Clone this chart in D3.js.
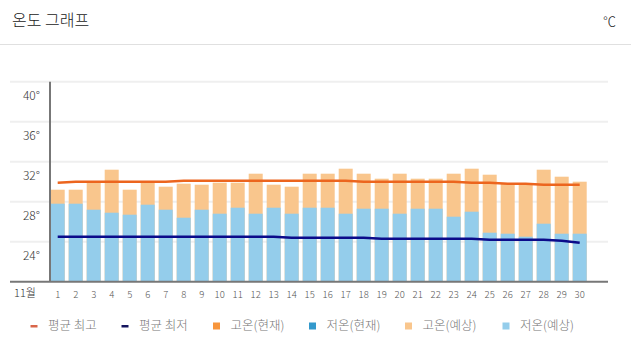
<!DOCTYPE html>
<html><head><meta charset="utf-8">
<script src="https://cdn.jsdelivr.net/npm/d3@7/dist/d3.min.js"></script>
<style>
html,body{margin:0;padding:0;background:#fff;}
svg{display:block;font-family:"Noto Sans CJK KR","Noto Sans",sans-serif;}
</style></head><body>
<svg id="c" width="631" height="356"></svg>
<script>
const days = d3.range(1, 31).map(String);
const highForecast = [29.2,29.2,29.9,31.2,29.2,29.9,29.5,29.8,29.7,29.9,29.9,30.8,29.7,29.5,30.8,30.8,31.3,30.8,30.3,30.8,30.3,30.3,30.8,31.3,30.7,29.8,29.7,31.2,30.5,30.0];
const lowForecast  = [27.8,27.8,27.2,26.9,26.7,27.7,27.2,26.4,27.2,26.8,27.4,26.8,27.4,26.8,27.4,27.4,26.8,27.3,27.3,26.8,27.3,27.3,26.5,27.0,24.9,24.8,24.5,25.8,24.8,24.8];
const avgHigh = [29.9,30.0,30.0,30.0,30.0,30.0,30.0,30.1,30.1,30.1,30.1,30.1,30.1,30.1,30.1,30.1,30.1,30.0,30.0,30.0,30.0,30.0,30.0,29.9,29.9,29.8,29.8,29.7,29.7,29.7];
const avgLow  = [24.5,24.5,24.5,24.5,24.5,24.5,24.5,24.5,24.5,24.5,24.5,24.5,24.5,24.4,24.4,24.4,24.4,24.4,24.3,24.3,24.3,24.3,24.3,24.3,24.2,24.2,24.2,24.2,24.1,23.9];
const yTicks = [20,24,28,32,36,40];
const yTickLabels = ["","24°","28°","32°","36°","40°"];
const monthLabel = "11월";
const legendLabels = ["평균 최고","평균 최저","고온(현재)","저온(현재)","고온(예상)","저온(예상)"];

const C = {hi:"#EC651E", lo:"#0B0B8A", hiNow:"#F7953C", loNow:"#3399CC", hiFc:"#F9C68D", loFc:"#94CDEB"};

const svg = d3.select("#c");
const x = d3.scaleBand().domain(days).range([48.7, 588.7]).paddingInner(0.222).paddingOuter(0.111);
const y = d3.scaleLinear().domain([20, 40]).range([281.7, 81.7]);

// header
svg.append("text").attr("x",12).attr("y",22).attr("dominant-baseline","middle")
  .attr("font-size",16).attr("font-weight",300).attr("fill","#222").text("온도 그래프");
svg.append("text").attr("x",616).attr("y",22).attr("dominant-baseline","middle").attr("text-anchor","end")
  .attr("font-size",13).attr("font-weight",300).attr("fill","#222").text("℃");
svg.append("line").attr("x1",0).attr("x2",631).attr("y1",44.5).attr("y2",44.5).attr("stroke","#e0e0e0");

// grid
svg.append("g").selectAll("line").data(yTicks.filter(t=>t>20)).join("line")
  .attr("x1",10).attr("x2",608).attr("y1",d=>y(d)).attr("y2",d=>y(d))
  .attr("stroke","#efefef").attr("stroke-width",2);

svg.append("g").selectAll("text").data(yTicks.filter(t=>t>20)).join("text")
  .attr("x",40).attr("y",d=>y(d)+15.5).attr("text-anchor","end").attr("dominant-baseline","middle")
  .attr("font-size",12).attr("font-weight",300).attr("fill","#333").text(d=>yTickLabels[yTicks.indexOf(d)]);

// bars
const g = svg.append("g");
g.selectAll("rect.h").data(days).join("rect").attr("class","h")
  .attr("x",d=>x(d)).attr("width",x.bandwidth())
  .attr("y",(d,i)=>y(highForecast[i])).attr("height",(d,i)=>y(20)-y(highForecast[i]))
  .attr("fill",C.hiFc);
g.selectAll("rect.l").data(days).join("rect").attr("class","l")
  .attr("x",d=>x(d)).attr("width",x.bandwidth())
  .attr("y",(d,i)=>y(lowForecast[i])).attr("height",(d,i)=>y(20)-y(lowForecast[i]))
  .attr("fill",C.loFc);

// axes lines
svg.append("line").attr("x1",10).attr("x2",608).attr("y1",y(20)).attr("y2",y(20)).attr("stroke","#777").attr("stroke-width",2);
svg.append("line").attr("x1",50).attr("x2",50).attr("y1",y(40)).attr("y2",y(20)).attr("stroke","#777").attr("stroke-width",2);

// lines
const line = d3.line().x((d,i)=>x(days[i])+x.bandwidth()/2).y(d=>y(d));
svg.append("path").attr("d",line(avgHigh)).attr("fill","none").attr("stroke",C.hi).attr("stroke-width",2.5);
svg.append("path").attr("d",line(avgLow)).attr("fill","none").attr("stroke",C.lo).attr("stroke-width",2.5);

// x labels
svg.append("g").selectAll("text").data(days).join("text")
  .attr("x",d=>x(d)+x.bandwidth()/2).attr("y",295).attr("text-anchor","middle").attr("dominant-baseline","middle")
  .attr("font-size",9.5).attr("font-weight",300).attr("fill","#555").text(d=>d);
svg.append("text").attr("x",14).attr("y",294.5).attr("dominant-baseline","middle")
  .attr("font-size",11).attr("font-weight",300).attr("fill","#333").text(monthLabel);

// legend
const legX = [34, 125, 216.5, 312.5, 408.5, 506];
const legColors = [C.hi, C.lo, C.hiNow, C.loNow, C.hiFc, C.loFc];
const leg = svg.append("g");
legendLabels.forEach((lab, i) => {
  const cx = legX[i];
  if (i < 2) {
    leg.append("rect").attr("x",cx-3.5).attr("y",325).attr("width",7).attr("height",2.5).attr("fill", i===0 ? "#D9664A" : "#14145E");
  } else {
    leg.append("rect").attr("x",cx-3.5).attr("y",322.5).attr("width",7).attr("height",7).attr("fill",legColors[i]);
  }
  leg.append("text").attr("x",cx+14).attr("y",326.5).attr("dominant-baseline","middle")
    .attr("font-size",12.5).attr("font-weight",300).attr("fill","#777").text(lab);
});
</script></body></html>
